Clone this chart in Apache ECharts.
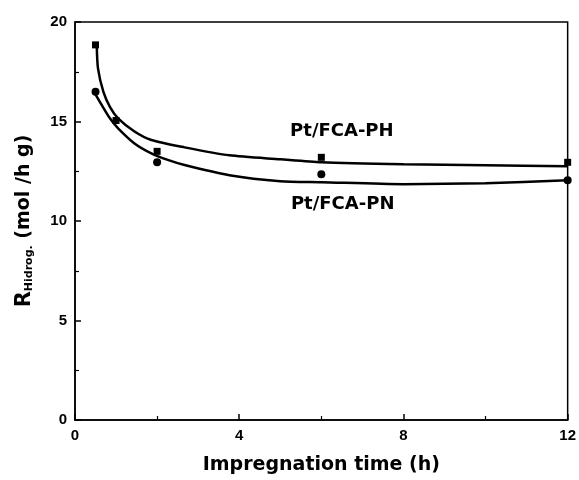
<!DOCTYPE html>
<html><head><meta charset="utf-8">
<script src="https://cdn.jsdelivr.net/npm/echarts@6/dist/echarts.min.js"></script>
<style>html,body{margin:0;padding:0;background:#fff}#c{width:579px;height:480px}</style>
</head><body><div id="c"></div>
<script>
// measured points
const phTime = [0.5, 1, 2, 6, 12];
const phRate = [18.85, 15.05, 13.5, 13.2, 12.95];
const pnTime = [0.5, 2, 6, 12];
const pnRate = [16.5, 12.95, 12.35, 12.05];
// fitted curves
const phFitTime = [0.53, 0.56, 0.69, 0.85, 1.05, 1.45, 1.86, 2.67, 3.76, 5.0, 6.0, 8.0, 10.0, 12.0];
const phFitRate = [18.8, 17.67, 16.5, 15.74, 15.16, 14.5, 14.07, 13.7, 13.3, 13.1, 12.95, 12.85, 12.8, 12.75];
const pnFitTime = [0.44, 0.65, 0.85, 1.05, 1.45, 1.86, 2.26, 2.67, 3.76, 5.0, 6.0, 8.0, 10.0, 12.0];
const pnFitRate = [16.58, 15.83, 15.16, 14.66, 13.9, 13.4, 13.07, 12.81, 12.3, 12.0, 11.95, 11.85, 11.9, 12.05];
// annotations
const annoText = ['Pt/FCA-PH', 'Pt/FCA-PN'];
const annoX = [6.5, 6.52];
const annoY = [14.5, 10.85];
const xTicks = [0, 4, 8, 12];
const yTicks = [0, 5, 10, 15, 20];

const F = 'DejaVu Sans, Liberation Sans, Arial, sans-serif';
const FT = 'Liberation Sans, Arial, Helvetica, sans-serif';
const chart = echarts.init(document.getElementById('c'));
const zip = (a, b) => a.map((v, i) => [v, b[i]]);
chart.setOption({
  animation: false,
  backgroundColor: '#fff',
  grid: {left: 75, right: 8, top: 22, bottom: 60, show: true, borderColor: '#000', borderWidth: 1.5},
  xAxis: {
    type: 'value', min: xTicks[0], max: xTicks[xTicks.length - 1], interval: 4,
    name: 'Impregnation time (h)', nameLocation: 'middle', nameGap: 36,
    nameTextStyle: {fontFamily: F, fontWeight: 'bold', fontSize: 19, color: '#000'},
    axisLine: {lineStyle: {color: '#000', width: 1.5}},
    axisTick: {inside: true, length: 6, lineStyle: {color: '#000', width: 1.5}},
    minorTick: {show: true, splitNumber: 2, length: 4, lineStyle: {color: '#000', width: 1.2}},
    splitLine: {show: false},
    axisLabel: {fontFamily: FT, fontWeight: 'bold', fontSize: 15, color: '#000', margin: 8}
  },
  yAxis: {
    type: 'value', min: yTicks[0], max: yTicks[yTicks.length - 1], interval: 5,
    name: '{r|R}{s|Hidrog.}{t| (mol /h g)}', nameLocation: 'middle', nameGap: 40, nameRotate: 90,
    nameTextStyle: {fontFamily: F, fontWeight: 'bold', color: '#000',
      rich: {
        r: {fontFamily: F, fontWeight: 'bold', fontSize: 21, color: '#000'},
        s: {fontFamily: F, fontWeight: 'bold', fontSize: 11, color: '#000', padding: [10, 0, 0, 0]},
        t: {fontFamily: F, fontWeight: 'bold', fontSize: 19, color: '#000'}
      }},
    axisLine: {show: true, lineStyle: {color: '#000', width: 1.5}},
    axisTick: {show: true, inside: true, length: 6, lineStyle: {color: '#000', width: 1.5}},
    minorTick: {show: true, splitNumber: 2, length: 4, lineStyle: {color: '#000', width: 1.2}},
    splitLine: {show: false},
    axisLabel: {fontFamily: FT, fontWeight: 'bold', fontSize: 15, color: '#000', margin: 8}
  },
  series: [
    {type: 'line', data: zip(phFitTime, phFitRate), smooth: 0.25, showSymbol: false,
     lineStyle: {color: '#000', width: 2.5}, z: 2},
    {type: 'line', data: zip(pnFitTime, pnFitRate), smooth: 0.25, showSymbol: false,
     lineStyle: {color: '#000', width: 2.5}, z: 2},
    {type: 'scatter', data: zip(phTime, phRate), symbol: 'rect', symbolSize: 7,
     itemStyle: {color: '#000', opacity: 1}, z: 3},
    {type: 'scatter', data: zip(pnTime, pnRate), symbol: 'circle', symbolSize: 8,
     itemStyle: {color: '#000', opacity: 1}, z: 3},
    {type: 'scatter', data: annoX.map((x, i) => ({value: [x, annoY[i]], name: annoText[i]})),
     symbolSize: 0, silent: true, itemStyle: {opacity: 1},
     label: {show: true, position: 'inside', formatter: p => p.name, textBorderWidth: 0,
       fontFamily: F, fontWeight: 'bold', fontSize: 18, color: '#000'}}
  ]
});
</script></body></html>
